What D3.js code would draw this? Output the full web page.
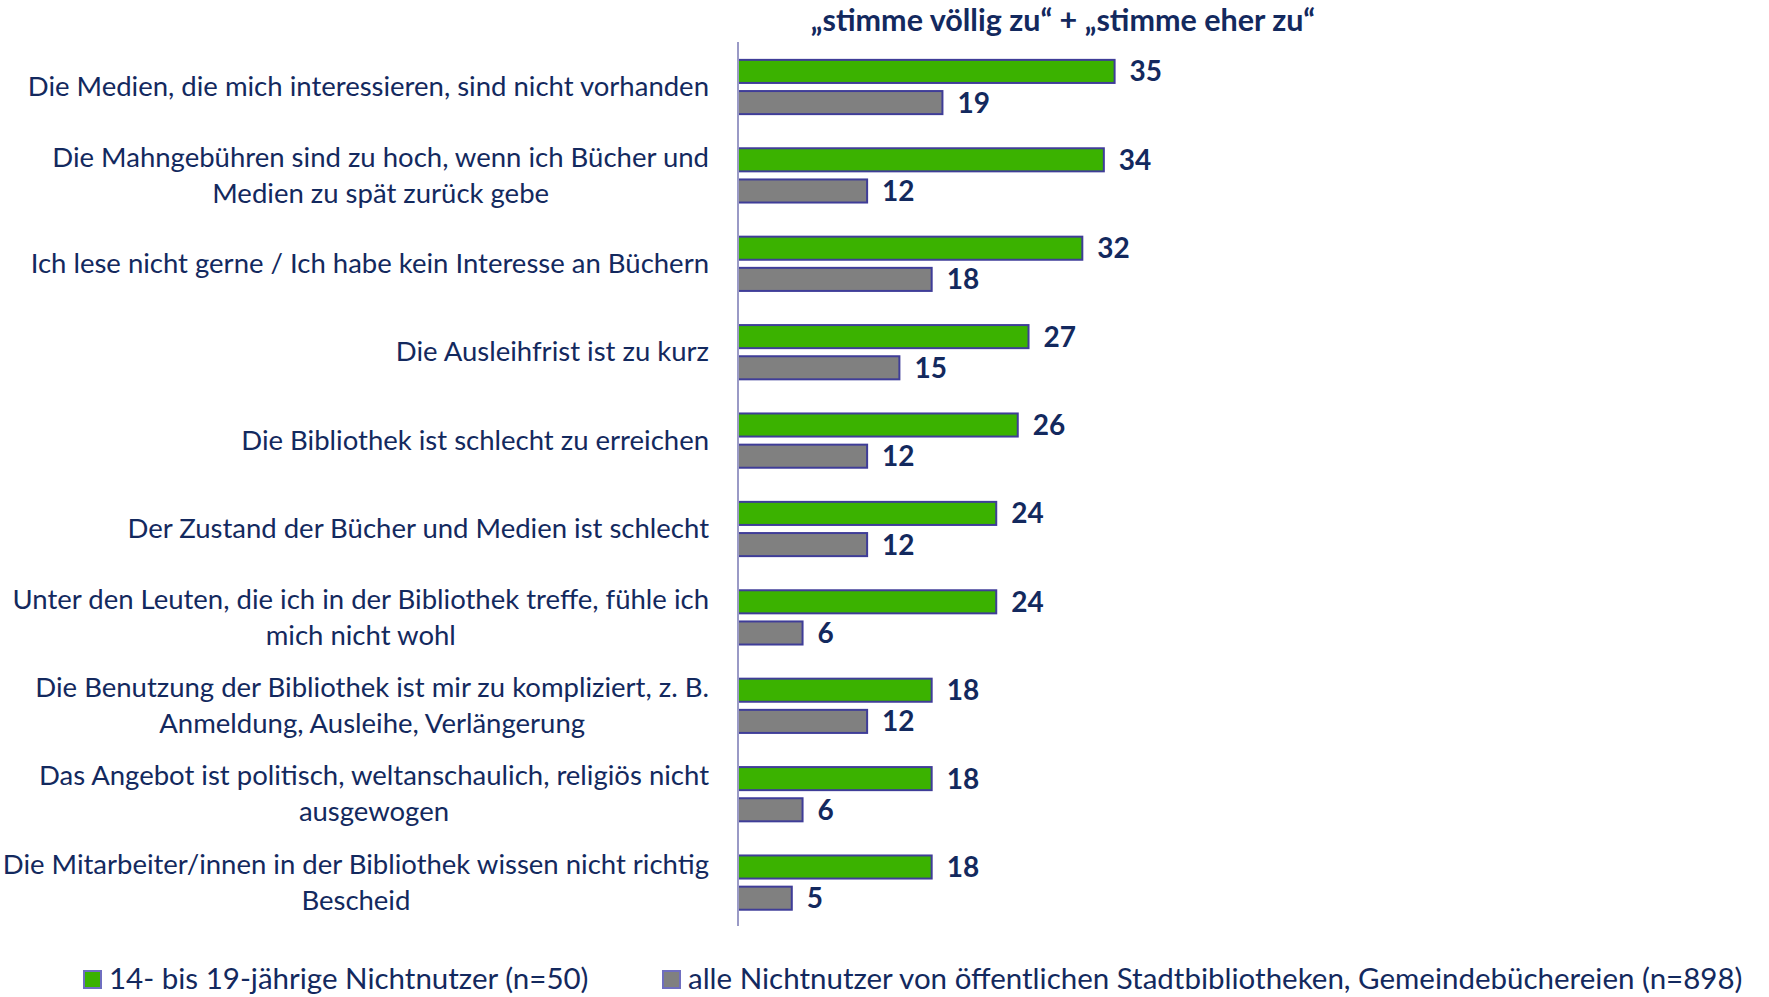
<!DOCTYPE html>
<html>
<head>
<meta charset="utf-8">
<style>
  body { margin: 0; background: #fff; }
  svg { display: block; font-family: Lato, "Open Sans", sans-serif; }
  text { fill: #13295e; }
</style>
<title>Nichtnutzer</title>
</head>
<body>
<script src="https://cdn.jsdelivr.net/npm/d3@7"></script>
<script>

// categories, one entry per bar group, already broken into lines
var categories = [
  ["Die Medien, die mich interessieren, sind nicht vorhanden"],
  ["Die Mahngebühren sind zu hoch, wenn ich Bücher und", "Medien zu spät zurück gebe"],
  ["Ich lese nicht gerne / Ich habe kein Interesse an Büchern"],
  ["Die Ausleihfrist ist zu kurz"],
  ["Die Bibliothek ist schlecht zu erreichen"],
  ["Der Zustand der Bücher und Medien ist schlecht"],
  ["Unter den Leuten, die ich in der Bibliothek treffe, fühle ich", "mich nicht wohl"],
  ["Die Benutzung der Bibliothek ist mir zu kompliziert, z. B.", "Anmeldung, Ausleihe, Verlängerung"],
  ["Das Angebot ist politisch, weltanschaulich, religiös nicht", "ausgewogen"],
  ["Die Mitarbeiter/innen in der Bibliothek wissen nicht richtig", "Bescheid"]
];
var youth = [35, 34, 32, 27, 26, 24, 24, 18, 18, 18];
var allNonUsers = [19, 12, 18, 15, 12, 12, 6, 12, 6, 5];
var seriesNames = [
  "14- bis 19-jährige Nichtnutzer (n=50)",
  "alle Nichtnutzer von öffentlichen Stadtbibliotheken, Gemeindebüchereien (n=898)"
];
var title = "\u201Estimme völlig zu\u201C + \u201Estimme eher zu\u201C";

var colors = ["#3bb200", "#808080"];
var barStroke = "#3f3d98";

var width = 1769, height = 997;
var svg = d3.select("body").append("svg")
    .attr("width", width)
    .attr("height", height);

var x = d3.scaleLinear().domain([0, 100]).range([738, 1814]);
var y = d3.scaleBand().domain(d3.range(categories.length)).range([42, 926]);

// bars inside each band
var inner = d3.scaleBand().domain([0, 1]).range([16, 74]).paddingInner(0.26).paddingOuter(0.06);

svg.append("text")
    .attr("x", 1063)
    .attr("y", 31)
    .attr("text-anchor", "middle")
    .attr("font-weight", "bold")
    .attr("font-size", 30.5)
    .text(title);

var series = [youth, allNonUsers];
var groups = svg.selectAll("g.cat")
  .data(categories)
  .join("g")
    .attr("class", "cat")
    .attr("transform", (d, i) => `translate(0,${y(i)})`);

series.forEach(function(vals, s) {
  groups.append("rect")
      .attr("x", x(0))
      .attr("y", inner(s))
      .attr("width", (d, i) => x(vals[i]) - x(0))
      .attr("height", inner.bandwidth())
      .attr("fill", colors[s])
      .attr("stroke", barStroke)
      .attr("stroke-width", 2);

  groups.append("text")
      .attr("x", (d, i) => x(vals[i]) + 15)
      .attr("y", inner(s) + inner.bandwidth() / 2 + 10)
      .attr("font-weight", "bold")
      .attr("font-size", 28)
      .text((d, i) => vals[i]);
});

// category labels, lines centred on each other, block right aligned
var labelRight = 709, lineH = 36;
groups.each(function(lines) {
  var g = d3.select(this);
  var t = g.append("text")
      .attr("text-anchor", "middle")
      .attr("font-size", 27.5);
  var top = y.bandwidth() / 2 - (lines.length - 1) * lineH / 2 + 10;
  var spans = t.selectAll("tspan").data(lines).join("tspan")
      .attr("y", (d, k) => top + k * lineH)
      .text(d => d);
  var w = d3.max(spans.nodes(), n => n.getComputedTextLength());
  spans.attr("x", labelRight - w / 2);
});

// axis line
svg.append("line")
    .attr("x1", x(0)).attr("x2", x(0))
    .attr("y1", y.range()[0]).attr("y2", y.range()[1])
    .attr("stroke", "#9a9ac6")
    .attr("stroke-width", 2);

// legend
var legendX = [84, 663];
var legend = svg.selectAll("g.leg")
  .data(seriesNames)
  .join("g")
    .attr("class", "leg")
    .attr("transform", (d, i) => `translate(${legendX[i]},971)`);
legend.append("rect")
    .attr("width", 17).attr("height", 17)
    .attr("fill", (d, i) => colors[i])
    .attr("stroke", "#6f6ec0")
    .attr("stroke-width", 2);
legend.append("text")
    .attr("x", 25)
    .attr("y", 18)
    .attr("font-size", 29.5)
    .text(d => d);

</script>
</body>
</html>
